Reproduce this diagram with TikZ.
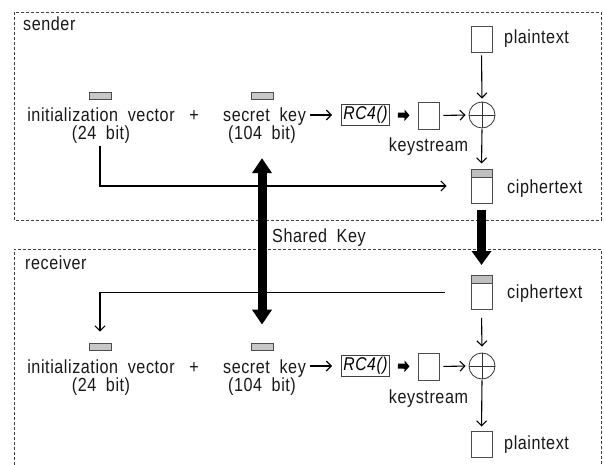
\documentclass[tikz,border=0pt]{standalone}
\usepackage{fontspec}
\setmainfont{Liberation Sans}[FakeStretch=0.85, LetterSpace=3, WordSpace=1.9]
\usetikzlibrary{arrows.meta}
\begin{document}
\begin{tikzpicture}[x=1pt,y=-1pt,
  font=\fontsize{19}{20}\selectfont,
  txt/.style={inner sep=0pt, anchor=base, text=black!90},
  lbl/.style={inner sep=0pt, anchor=base west, text=black!90},
  bar/.style={draw=black!70, fill=black!22, line width=0.8pt, minimum width=22pt, minimum height=7pt, inner sep=0pt},
  blk/.style={draw=black!70, line width=0.9pt, minimum width=21pt, inner sep=0pt},
  ctbox/.style={blk, minimum height=34pt,
    path picture={\fill[black!25] (path picture bounding box.north west) rectangle ([yshift=-8pt]path picture bounding box.north east);
      \draw[black!70, line width=0.9pt] ([yshift=-8pt]path picture bounding box.north west) -- ([yshift=-8pt]path picture bounding box.north east);}},
  rcbox/.style={draw=black!75, line width=0.8pt, inner xsep=2pt, inner ysep=1.5pt, minimum height=18pt, font=\fontsize{18.5}{20}\selectfont\itshape},
  xorc/.style={circle, draw=black!80, line width=0.8pt, minimum size=26pt, inner sep=0pt,
    path picture={\draw[black!80, line width=0.8pt] (path picture bounding box.north) -- (path picture bounding box.south) (path picture bounding box.west) -- (path picture bounding box.east);}},
  thin/.style={draw=black, line width=1.1pt, -{Straight Barb[length=5pt,width=10pt,line width=1.1pt]}},
  thinline/.style={draw=black, line width=1.1pt},
  fat/.style={draw=black, line width=5pt, -{Triangle[length=5pt,width=11pt]}},
  huge/.style={draw=black, line width=9pt, -{Triangle[length=14pt,width=19pt]}},
  hugeboth/.style={draw=black, line width=9pt, {Triangle[length=15pt,width=19pt]}-{Triangle[length=15pt,width=19pt]}},
  frame/.style={draw=black!75, line width=0.8pt, dash pattern=on 3pt off 2pt}
]
\useasboundingbox (0,0) rectangle (604,465);
\fill[white] (0,0) rectangle (604,465);

% frames
\draw[frame] (14,12) rectangle (601,220);
\draw[frame] (14,465) -- (14,249) -- (601,249) -- (601,465);
\node[lbl] (sl) at (23,31) {sender};
\node[lbl] (rl) at (25,269) {receiver};

% ===== sender =====
\node[bar] (s_ivbar) at (100,95.5) {};
\node[txt] (s_iv) at (101,122) {initialization vector};
\node[txt] (s_ivbits) at (101,140) {(24 bit)};
\node[txt] (s_plus) at (194,122) {+};
\node[bar] (s_kbar) at (262,95.5) {};
\node[txt] (s_key) at (264.5,122) {secret key};
\node[txt] (s_keybits) at (262,140) {(104 bit)};
\node[rcbox] (s_rc4) at (365.5,115) {RC4()};
\node[blk, minimum height=27pt] (s_ks) at (428.5,115.5) {};
\node[txt] (s_ksl) at (428.5,152) {keystream};
\node[xorc] (s_xor) at (482,115) {};
\node[blk, minimum height=26pt] (s_pt) at (481.5,39) {};
\node[lbl] (s_ptl) at (504,44) {plaintext};
\node[ctbox] (s_ct) at (481.5,186) {};
\node[lbl] (s_ctl) at (507,193) {ciphertext};

\draw[thin, shorten <=4pt, shorten >=9pt] (s_key.east |- s_rc4) -- (s_rc4.west);
\draw[fat, shorten <=8pt, shorten >=8pt] (s_rc4.east) -- (s_ks.west);
\draw[thin, shorten <=4pt, shorten >=3pt] (s_ks.east) -- (s_xor.west);
\draw[thin, shorten <=3pt, shorten >=3pt] (s_pt.south) -- (s_xor.north);
\draw[thin, shorten <=1pt, shorten >=5pt] (s_xor.south) -- (s_ct.north);
\draw[thin, shorten <=2pt, shorten >=24pt] (s_ivbits.south -| s_ivbar) |- (s_ct.west);

% ===== shared =====
\draw[huge, shorten <=7pt, shorten >=11pt] (s_ct.south) -- (481.5,276);
\node[bar] (r_kbar) at (262,346.5) {};
\draw[hugeboth, shorten <=14pt, shorten >=18pt] (s_keybits.south) -- (r_kbar.north);
\node[lbl] (shk) at (272,242) {Shared Key};

% ===== receiver =====
\node[ctbox] (r_ct) at (481.5,292.5) {};
\node[lbl] (r_ctl) at (507,298) {ciphertext};
\node[bar] (r_ivbar) at (100,346.5) {};
\node[txt] (r_iv) at (101,373) {initialization vector};
\node[txt] (r_ivbits) at (101,391) {(24 bit)};
\node[txt] (r_plus) at (194,373) {+};
\node[txt] (r_key) at (264.5,373) {secret key};
\node[txt] (r_keybits) at (262,391) {(104 bit)};
\node[rcbox] (r_rc4) at (365.5,366) {RC4()};
\node[blk, minimum height=27pt] (r_ks) at (428.5,366.5) {};
\node[txt] (r_ksl) at (428.5,403) {keystream};
\node[xorc] (r_xor) at (482,366) {};
\node[blk, minimum height=26pt] (r_pt) at (481.5,444) {};
\node[lbl] (r_ptl) at (504,449) {plaintext};

\draw[thinline, shorten <=26pt, shorten >=11pt, -{Straight Barb[length=5pt,width=10pt,line width=1.1pt]}] (r_ct.west) -| (r_ivbar.north);
\draw[thin, shorten <=4pt, shorten >=9pt] (r_key.east |- r_rc4) -- (r_rc4.west);
\draw[fat, shorten <=8pt, shorten >=8pt] (r_rc4.east) -- (r_ks.west);
\draw[thin, shorten <=4pt, shorten >=3pt] (r_ks.east) -- (r_xor.west);
\draw[thin, shorten <=8pt, shorten >=6pt] (r_ct.south) -- (r_xor.north);
\draw[thin, shorten <=1pt, shorten >=4pt] (r_xor.south) -- (r_pt.north);
\end{tikzpicture}
\end{document}
